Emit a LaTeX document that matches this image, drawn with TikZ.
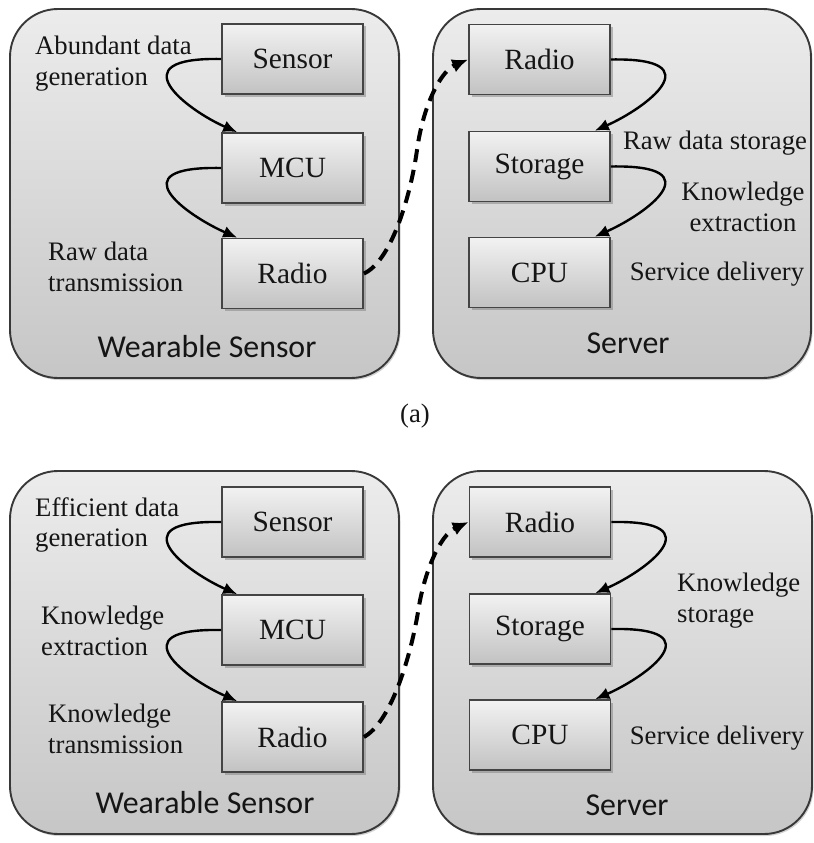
\documentclass[tikz,border=0pt]{standalone}
\usepackage{fontspec}
\setmainfont{Liberation Serif}
\newfontfamily\capfont{Carlito}
\usetikzlibrary{arrows.meta,shadows}
\definecolor{panelTop}{HTML}{ECECEC}
\definecolor{panelBot}{HTML}{C6C6C6}
\definecolor{panelLine}{HTML}{383838}
\definecolor{boxTop}{HTML}{F2F2F2}
\definecolor{boxBot}{HTML}{C2C2C2}
\definecolor{boxLine}{HTML}{444444}
\definecolor{txt}{HTML}{151515}
\begin{document}
\begin{tikzpicture}[x=1bp,y=-1bp,
  panel/.style={draw=panelLine, line width=1.9bp, rounded corners=48bp,
    top color=panelTop, bottom color=panelBot,
    drop shadow={shadow xshift=1.5bp, shadow yshift=-2bp, opacity=.35}},
  unit/.style={draw=boxLine, line width=1.7bp, top color=boxTop, bottom color=boxBot,
    minimum width=141bp, minimum height=70bp, inner sep=0pt, text=txt,
    font=\fontsize{29.5}{31}\selectfont,
    drop shadow={shadow xshift=2.5bp, shadow yshift=-2.5bp, opacity=.5}},
  lbl/.style={font=\fontsize{26.8}{31}\selectfont, inner sep=0pt, text=txt},
  capt/.style={font=\capfont\fontsize{32}{36}\selectfont, inner sep=0pt, text=txt},
  flow/.style={line width=2.4bp, black, -{Latex[length=14bp,width=12bp]}},
  dflow/.style={line width=4bp, black, dash pattern=on 13bp off 8bp,
    -{Latex[length=16bp,width=14bp]}}
]
\useasboundingbox (0,0) rectangle (814,843);
\fill[white] (0,0) rectangle (814,843);

% ---------- (a) top ----------
\node[panel, minimum width=389bp, minimum height=369bp] (pA) at (204.5,193.5) {};
\node[panel, minimum width=378bp, minimum height=369bp] (pB) at (622,193.5) {};

\node[unit] (sA) at (292.5,59) {Sensor};
\node[unit] (mA) at (292.5,168) {MCU};
\node[unit] (rA) at (292.5,273.5) {Radio};

\node[unit] (rB) at (539.5,59.5) {Radio};
\node[unit] (stB) at (539.5,166.5) {Storage};
\node[unit] (cB) at (539.5,272.5) {CPU};

\node[lbl, anchor=west, align=left] (lA1) at (35,63.5) {Abundant data\\generation};
\node[lbl, anchor=west, align=left] (lA2) at (48,267) {Raw data\\transmission};
\node[lbl] (lB1) at (715,143) {Raw data storage};
\node[lbl, align=center] (lB2) at (743,207) {Knowledge\\extraction};
\node[lbl] (lB3) at (717,274) {Service delivery};

\node[capt] (cA) at (207,347) {Wearable Sensor};
\node[capt] (cBn) at (628,343) {Server};

\draw[flow] (sA.west) .. controls +(-104,-2) and +(-50,-22) .. ([xshift=16bp]mA.north west);
\draw[flow] (mA.west) .. controls +(-104,-2) and +(-50,-22) .. ([xshift=16bp]rA.north west);
\draw[flow] (rB.east) .. controls +(104,-2) and +(50,-22) .. ([xshift=-16bp]stB.north east);
\draw[flow] (stB.east) .. controls +(104,-2) and +(50,-22) .. ([xshift=-16bp]cB.north east);

\draw[dflow] (rA.east) .. controls (390,262) and (410,200) .. (417,150)
  .. controls (424,100) and (443,70) .. (rB.west);

\node[lbl] (subA) at (415,416) {(a)};

% ---------- (b) bottom ----------
\node[panel, minimum width=389bp, minimum height=363bp] (pC) at (204.5,652.5) {};
\node[panel, minimum width=379bp, minimum height=363bp] (pD) at (622.5,652.5) {};

\node[unit] (sC) at (292.5,522) {Sensor};
\node[unit] (mC) at (292.5,630) {MCU};
\node[unit] (rC) at (292.5,737) {Radio};

\node[unit] (rD) at (540,522) {Radio};
\node[unit] (stD) at (540,629) {Storage};
\node[unit] (cD) at (540,735) {CPU};

\node[lbl, anchor=west, align=left] (lC1) at (35,525) {Efficient data\\generation};
\node[lbl, anchor=west, align=left] (lC2) at (41,631) {Knowledge\\extraction};
\node[lbl, anchor=west, align=left] (lC3) at (48,729) {Knowledge\\transmission};
\node[lbl, anchor=west, align=left] (lD1) at (677,601) {Knowledge\\storage};
\node[lbl] (lD2) at (717,738) {Service delivery};

\node[capt] (cC) at (205,803) {Wearable Sensor};
\node[capt] (cDn) at (627,805) {Server};

\draw[flow] (sC.west) .. controls +(-104,-2) and +(-50,-22) .. ([xshift=16bp]mC.north west);
\draw[flow] (mC.west) .. controls +(-104,-2) and +(-50,-22) .. ([xshift=16bp]rC.north west);
\draw[flow] (rD.east) .. controls +(104,-2) and +(50,-22) .. ([xshift=-16bp]stD.north east);
\draw[flow] (stD.east) .. controls +(104,-2) and +(50,-22) .. ([xshift=-16bp]cD.north east);

\draw[dflow] (rC.east) .. controls (390,723) and (410,660) .. (418,612)
  .. controls (424,572) and (440,535) .. (rD.west);
\end{tikzpicture}
\end{document}
